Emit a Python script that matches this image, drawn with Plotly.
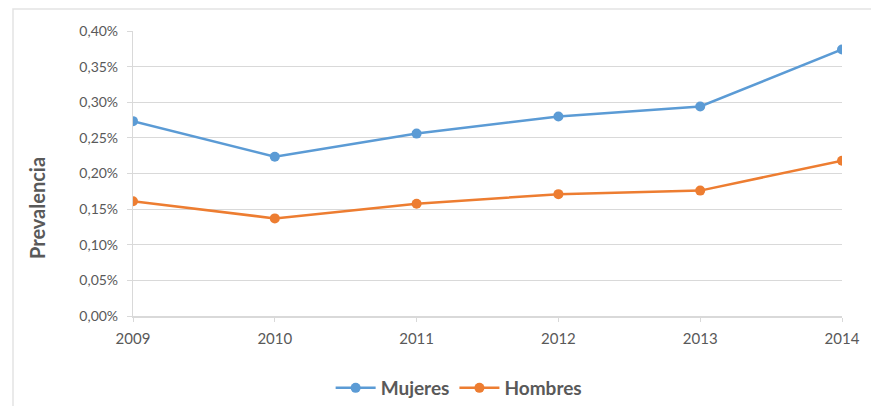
import plotly.graph_objects as go

# Prevalence by year and sex (percent)
years = [2009, 2010, 2011, 2012, 2013, 2014]
mujeres = [0.2735, 0.2236, 0.2560, 0.2800, 0.2940, 0.3740]
hombres = [0.1610, 0.1370, 0.1575, 0.1710, 0.1760, 0.2180]
y_ticks = [0.00, 0.05, 0.10, 0.15, 0.20, 0.25, 0.30, 0.35, 0.40]
y_tick_labels = [f"{v:.2f}%".replace(".", ",") for v in y_ticks]

BLUE = "#5B9BD5"
ORANGE = "#ED7D31"
TEXT = "#595959"
GRID = "#D9D9D9"
FONT = "Lato, 'Open Sans', sans-serif"

fig = go.Figure()
fig.add_trace(go.Scatter(
    x=years, y=mujeres, name="Mujeres", mode="lines+markers",
    line=dict(color=BLUE, width=2.5), marker=dict(color=BLUE, size=10),
))
fig.add_trace(go.Scatter(
    x=years, y=hombres, name="Hombres", mode="lines+markers",
    line=dict(color=ORANGE, width=2.5), marker=dict(color=ORANGE, size=10),
))

fig.update_layout(
    width=871, height=406,
    margin=dict(l=133, r=29, t=31, b=90, autoexpand=False),
    paper_bgcolor="white", plot_bgcolor="white",
    font=dict(family=FONT, color=TEXT, size=14),
    showlegend=True,
    legend=dict(
        orientation="h", x=0.46, xanchor="center",
        yref="container", y=(406 - 388) / 406, yanchor="middle",
        font=dict(size=19, color=TEXT, family=FONT, weight="bold"),
        itemwidth=40, traceorder="normal",
    ),
    xaxis=dict(
        range=[2009, 2014], tickmode="array", tickvals=years,
        ticktext=[str(y) for y in years],
        showgrid=False, zeroline=False,
        showline=True, linecolor=GRID, linewidth=1.5,
        ticks="outside", ticklen=4, tickcolor=GRID,
        ticklabelstandoff=4,
        tickfont=dict(size=15, color=TEXT, family=FONT),
    ),
    yaxis=dict(
        range=[0, 0.40], tickmode="array", tickvals=y_ticks, ticktext=y_tick_labels,
        showgrid=True, gridcolor=GRID, gridwidth=1.2, zeroline=False,
        showline=True, linecolor=GRID, linewidth=1.2,
        ticks="outside", ticklen=5, tickcolor=GRID,
        ticklabelstandoff=6,
        tickfont=dict(size=14, color=TEXT, family=FONT),
    ),
    annotations=[dict(
        text="<b>Prevalencia</b>", xref="paper", yref="paper",
        x=(37 - 133) / 709, y=(316 - 208) / 285, xanchor="center", yanchor="middle",
        textangle=-90, showarrow=False,
        font=dict(size=20, color=TEXT, family=FONT),
    )],
    shapes=[dict(
        type="rect", xref="paper", yref="paper",
        x0=(13 - 133) / 709, x1=(900 - 133) / 709,
        y0=(316 - 430) / 285, y1=(316 - 9) / 285,
        line=dict(color="#E3E3E3", width=1.5), fillcolor="rgba(0,0,0,0)", layer="below",
    )],
)

fig.write_html("out.html")
